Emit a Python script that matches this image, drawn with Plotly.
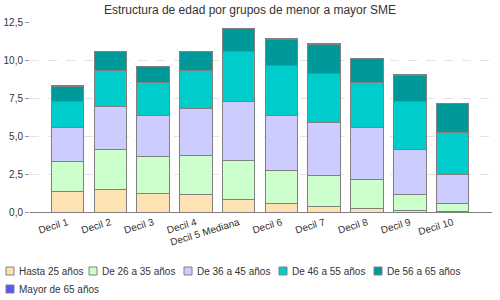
import plotly.graph_objects as go

# deciles (x categories)
deciles = ["Decil 1", "Decil 2", "Decil 3", "Decil 4", "Decil 5 Mediana",
           "Decil 6", "Decil 7", "Decil 8", "Decil 9", "Decil 10"]

# stacked values per age group
hasta_25 = [1.32, 1.45, 1.25, 1.12, 0.79, 0.53, 0.33, 0.20, 0.13, 0.02]
de_26_35 = [1.97, 2.69, 2.43, 2.63, 2.63, 2.23, 2.04, 1.97, 1.05, 0.51]
de_36_45 = [2.24, 2.83, 2.70, 3.03, 3.82, 3.56, 3.49, 3.42, 2.96, 1.97]
de_46_55 = [1.77, 2.37, 2.11, 2.50, 3.29, 3.29, 3.28, 2.90, 3.10, 2.70]
de_56_65 = [0.97, 1.21, 1.05, 1.25, 1.53, 1.77, 1.91, 1.58, 1.77, 1.91]
mayor_65 = [0.03, 0.04, 0.04, 0.00, 0.04, 0.04, 0.04, 0.00, 0.04, 0.04]

series_names = ["Hasta 25 años", "De 26 a 35 años", "De 36 a 45 años",
                "De 46 a 55 años", "De 56 a 65 años", "Mayor de 65 años"]
series_values = [hasta_25, de_26_35, de_36_45, de_46_55, de_56_65, mayor_65]
series_colors = ["#FFE2B4", "#CCFFCC", "#CCCCFF", "#00CCCC", "#009999", "#5555FF"]

FONT = "Liberation Sans, Arial, sans-serif"
W, H = 500, 300
ML, MR, MT, MB = 30, 8, 22, 88
PW, PH = W - ML - MR, H - MT - MB

fig = go.Figure()
for name, vals, color in zip(series_names, series_values, series_colors):
    fig.add_trace(go.Bar(
        x=list(range(len(deciles))),
        y=vals,
        name=name,
        width=0.76,
        marker=dict(color=color, line=dict(color="#808080", width=1)),
    ))

# legend drawn by hand (JFreeChart style: small boxes, tight text)
leg_pos = [(6, 271), (89, 271), (184, 271), (279, 271), (374, 271), (6, 289)]
shapes, annots = [], []
for (px, py), name, color in zip(leg_pos, series_names, series_colors):
    shapes.append(dict(
        type="rect", xref="paper", yref="paper",
        x0=(px - ML) / PW, x1=(px + 8 - ML) / PW,
        y0=(H - MB - (py + 4)) / PH, y1=(H - MB - (py - 4)) / PH,
        fillcolor=color, line=dict(color="#808080", width=1),
    ))
    annots.append(dict(
        xref="paper", yref="paper", showarrow=False,
        x=(px + 11 - ML) / PW, y=(H - MB - py) / PH,
        xanchor="left", yanchor="middle", text=name,
        font=dict(family=FONT, size=10, color="#333333"),
    ))

fig.update_layout(
    barmode="stack",
    width=W,
    height=H,
    margin=dict(l=ML, r=MR, t=MT, b=MB, autoexpand=False),
    paper_bgcolor="white",
    plot_bgcolor="white",
    separators=",.",
    font=dict(family=FONT, size=10, color="#333333"),
    title=dict(
        text="Estructura de edad por grupos de menor a mayor SME",
        x=0.5, xref="container", xanchor="center",
        y=1 - 10 / H, yref="container", yanchor="middle",
        font=dict(family=FONT, size=12, color="#333333"),
    ),
    showlegend=False,
    shapes=shapes,
    annotations=annots,
)

fig.update_xaxes(
    tickmode="array",
    tickvals=list(range(len(deciles))),
    ticktext=deciles,
    tickangle=-17,
    range=[-0.876, 9.92],
    showgrid=False,
    showline=True,
    linecolor="#808080",
    linewidth=1,
    ticks="",
    automargin=False,
    tickfont=dict(family=FONT, size=10, color="#333333"),
)

fig.update_yaxes(
    range=[0, 12.5],
    tickvals=[0, 2.5, 5, 7.5, 10, 12.5],
    tickformat=".1f",
    showgrid=True,
    gridcolor="#E2E2E2",
    griddash="dash",
    gridwidth=1,
    zeroline=False,
    ticks="outside",
    ticklen=4,
    tickcolor="#999999",
    automargin=False,
    tickfont=dict(family=FONT, size=10, color="#333333"),
)

fig.write_html("out.html", config={"displayModeBar": False},
               post_script="document.body.style.margin='0';")
